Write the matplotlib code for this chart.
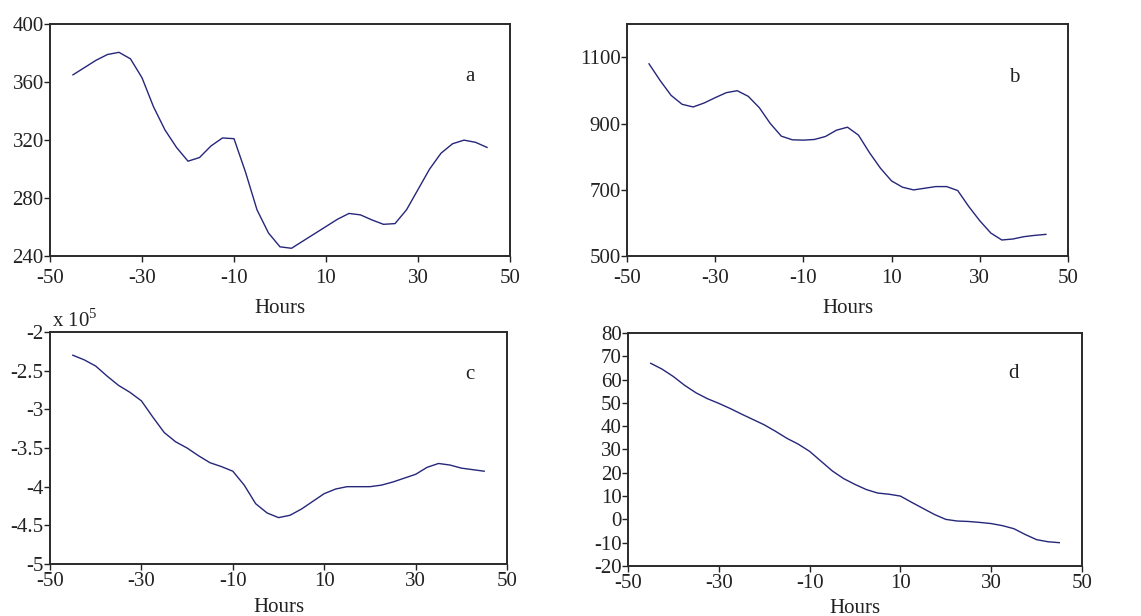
import numpy as np
import matplotlib
matplotlib.use("Agg")
import matplotlib.pyplot as plt

plt.rcParams['font.family'] = ['Liberation Serif', 'DejaVu Serif']
plt.rcParams['mathtext.fontset'] = 'custom'
plt.rcParams['mathtext.rm'] = 'Liberation Serif'
plt.rcParams['axes.unicode_minus'] = False

# Hours relative to event
hours = np.arange(-45, 45.1, 2.5)

# panel a
series_a = [365, 370, 375, 379, 380.5, 376, 363, 343, 327, 315, 305.5, 308, 316,
            321.5, 321, 298, 272, 256, 246.5, 245.5, 250.5, 255.5, 260.5, 265.5, 269.5, 268.5,
            265, 262, 262.5, 272, 286, 300, 311, 317.5, 320, 318.5, 315]
# panel b
series_b = [1080, 1030, 985, 958, 950, 962, 978, 993, 999, 982, 948, 900, 862,
            851, 850, 852, 861, 880, 889, 865, 812, 765, 727, 708, 700, 705,
            710, 710, 698, 650, 607, 570, 549, 552, 559, 563, 566]
# panel c (x 10^5)
series_c = [-2.30, -2.36, -2.44, -2.57, -2.69, -2.78, -2.89, -3.10, -3.30, -3.42,
            -3.50, -3.60, -3.69, -3.74, -3.80, -3.98, -4.22, -4.34, -4.40, -4.37,
            -4.29, -4.19, -4.09, -4.03, -4.00, -4.00, -4.00, -3.98, -3.94, -3.89,
            -3.84, -3.75, -3.70, -3.72, -3.76, -3.78, -3.80]
# panel d
series_d = [67, 64.5, 61.3, 57.5, 54.3, 51.8, 49.8, 47.6, 45.2, 42.9, 40.6, 37.8,
            34.8, 32.3, 29.2, 25.0, 20.8, 17.5, 15.0, 12.8, 11.3, 10.8, 10.0, 7.3,
            4.7, 2.1, 0.0, -0.7, -0.9, -1.3, -1.8, -2.7, -4.0, -6.5, -8.7, -9.6, -10.0]

xticks = [-50, -30, -10, 10, 30, 50]
yticks_a = [240, 280, 320, 360, 400]
yticks_b = [500, 700, 900, 1100]
yticks_c = [-5, -4.5, -4, -3.5, -3, -2.5, -2]
yticks_d = [-20, -10, 0, 10, 20, 30, 40, 50, 60, 70, 80]

line_color = '#26267a'
fs = 15

fig = plt.figure(figsize=(11.41, 6.16), dpi=100)
ax_a = fig.add_axes([0.0438, 0.584, 0.4032, 0.377])
ax_b = fig.add_axes([0.5495, 0.584, 0.3865, 0.377])
ax_c = fig.add_axes([0.0438, 0.0844, 0.4006, 0.3766])
ax_d = fig.add_axes([0.5504, 0.0812, 0.3979, 0.3782])

panels = [
    (ax_a, series_a, yticks_a, (240, 400), 'a', (0.913, 0.774), 5, 8),
    (ax_b, series_b, yticks_b, (500, 1200), 'b', (0.878, 0.771), 5, 8),
    (ax_c, series_c, yticks_c, (-5, -2), 'c', (0.918, 0.817), 2, 5),
    (ax_d, series_d, yticks_d, (-20, 80), 'd', (0.850, 0.828), 2, 4),
]

for ax, vals, yt, ylim, letter, pos, xpad, lpad in panels:
    ax.plot(hours, vals, color=line_color, lw=1.0)
    ax.set_xlim(-50, 50)
    ax.set_ylim(*ylim)
    ax.set_xticks(xticks)
    ax.set_yticks(yt)
    ax.set_yticklabels([('%g' % v) for v in yt])
    ax.tick_params(direction='out', length=4, width=1,
                   labelsize=fs, colors='#222222', top=False, right=False)
    ax.tick_params(axis='y', pad=0.5)
    ax.tick_params(axis='x', pad=xpad)
    for s in ax.spines.values():
        s.set_linewidth(1.4)
        s.set_color('#2a2a2a')
    ax.set_xlabel('Hours', fontsize=fs, labelpad=lpad, color='#222222')
    ax.text(pos[0], pos[1], letter, transform=ax.transAxes, fontsize=fs,
            ha='center', va='center', color='#222222')

ax_c.text(0.005, 1.0, 'x 10$^{5}$', transform=ax_c.transAxes, fontsize=fs,
          ha='left', va='bottom', color='#222222')

fig.savefig('out.png', dpi=100)
